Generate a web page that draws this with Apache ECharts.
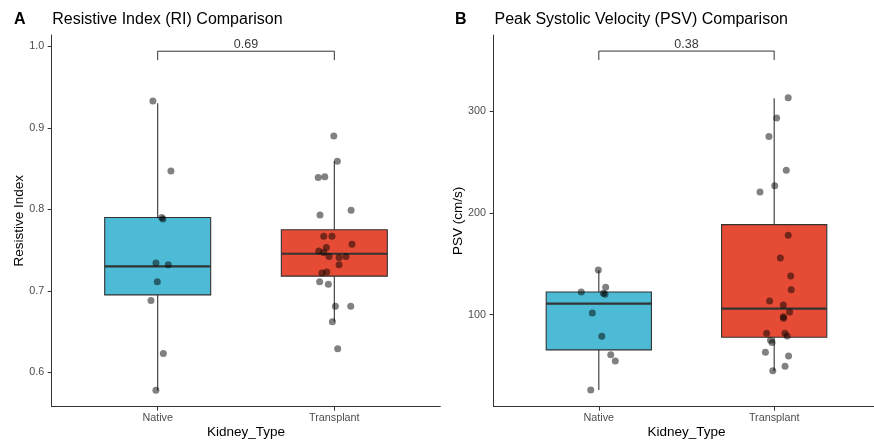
<!DOCTYPE html>
<html>
<head>
<meta charset="utf-8">
<script src="https://cdn.jsdelivr.net/npm/echarts@6/dist/echarts.min.js"></script>
<style>
html,body{margin:0;padding:0;background:#fff;overflow:hidden;}
#chart{width:874px;height:440px;}
</style>
</head>
<body>
<div id="chart"></div>
<script>
// ---------- data ----------
const categories = ['Native', 'Transplant'];

// Panel A: Resistive Index
const riNativeValues  = [0.933, 0.847, 0.790, 0.788, 0.734, 0.732, 0.711, 0.688, 0.623, 0.578];
const riNativeJitter  = [0.973, 1.075, 1.023, 1.030, 0.990, 1.060, 0.998, 0.962, 1.032, 0.990];
const riTransValues   = [0.890, 0.859, 0.839, 0.840, 0.799, 0.793, 0.767, 0.767, 0.757, 0.753, 0.749, 0.747,
                         0.742, 0.741, 0.742, 0.732, 0.723, 0.722, 0.711, 0.708, 0.681, 0.681, 0.662, 0.629];
const riTransJitter   = [1.997, 2.017, 1.909, 1.946, 2.095, 1.919, 1.940, 1.987, 2.100, 1.955, 1.912, 1.940,
                         1.970, 2.027, 2.066, 2.027, 1.957, 1.930, 1.917, 1.966, 2.006, 2.093, 1.989, 2.019];
// box stats: [min, Q1, median, Q3, max]
const riNativeBox = [0.578, 0.695, 0.730, 0.790, 0.930];
const riTransBox  = [0.662, 0.718, 0.7455, 0.775, 0.859];
const riTicks = [0.6, 0.7, 0.8, 0.9, 1.0];

// Panel B: Peak Systolic Velocity
const psvNativeValues = [143.9, 126.9, 122.3, 121.0, 120.0, 101.7, 78.8, 60.7, 54.5, 26.1];
const psvNativeJitter = [0.997, 1.039, 0.900, 1.026, 1.035, 0.963, 1.017, 1.068, 1.094, 0.954];
const psvTransValues  = [313.1, 293.1, 275.1, 241.8, 226.7, 220.5, 177.9, 155.7, 137.9, 124.5, 113.4, 109.5,
                         102.6, 98.0, 96.5, 81.7, 81.7, 79.1, 74.9, 72.6, 63.0, 59.5, 49.3, 45.0];
const psvTransJitter  = [2.080, 2.014, 1.970, 2.069, 2.003, 1.919, 2.080, 2.035, 2.094, 2.097, 1.974, 2.052,
                         2.088, 2.052, 2.054, 1.957, 2.061, 2.074, 1.979, 1.988, 1.950, 2.082, 2.062, 1.992];
const psvNativeBox = [26.1, 65.4, 110.8, 122.3, 143.6];
const psvTransBox  = [44.5, 77.8, 105.9, 188.4, 312.5];
const psvTicks = [100, 200, 300];

// p-value brackets
const pValues = ['0.69', '0.38'];
const bracketTop = [0.994, 358.9];
const bracketTip = [0.983, 350.1];

const boxColors = ['#4DBBD5', '#E64B35'];

// ---------- chart ----------
const FONT = '"Liberation Sans", Arial, sans-serif';
const chart = echarts.init(document.getElementById('chart'), null, {renderer: 'canvas'});

function zip(xs, ys) { return xs.map((x, i) => [x, ys[i]]); }

function renderBox(params, api) {
  const x = api.value(0);
  const half = 0.3;
  const lo = api.value(1), q1 = api.value(2), md = api.value(3), q3 = api.value(4), hi = api.value(5);
  const pTL = api.coord([x - half, q3]);
  const pBR = api.coord([x + half, q1]);
  const pMedL = api.coord([x - half, md]);
  const pMedR = api.coord([x + half, md]);
  const pHi = api.coord([x, hi]);
  const pLo = api.coord([x, lo]);
  const pQ3 = api.coord([x, q3]);
  const pQ1 = api.coord([x, q1]);
  const stroke = '#333333';
  return {
    type: 'group',
    children: [
      {type: 'line', shape: {x1: pHi[0], y1: pHi[1], x2: pQ3[0], y2: pQ3[1]}, style: {stroke: stroke, lineWidth: 1.1}},
      {type: 'line', shape: {x1: pQ1[0], y1: pQ1[1], x2: pLo[0], y2: pLo[1]}, style: {stroke: stroke, lineWidth: 1.1}},
      {type: 'rect', shape: {x: pTL[0], y: pTL[1], width: pBR[0] - pTL[0], height: pBR[1] - pTL[1]},
        style: {fill: boxColors[params.dataIndex], stroke: stroke, lineWidth: 1.1}},
      {type: 'line', shape: {x1: pMedL[0], y1: pMedL[1], x2: pMedR[0], y2: pMedR[1]}, style: {stroke: stroke, lineWidth: 2.2}}
    ]
  };
}

function xAxisDef(gridIndex) {
  return {
    type: 'value', gridIndex: gridIndex, min: 0.4, max: 2.6,
    name: 'Kidney_Type', nameLocation: 'middle', nameGap: 19, nameMoveOverlap: false,
    nameTextStyle: {fontFamily: FONT, fontSize: 13.5, color: '#000'},
    axisLine: {show: true, onZero: false, lineStyle: {color: '#333', width: 1}},
    axisTick: {show: true, length: 4, customValues: [1, 2], lineStyle: {color: '#333'}},
    axisLabel: {show: true, customValues: [1, 2], margin: 6, fontFamily: FONT, fontSize: 10.8, color: '#4D4D4D',
      formatter: v => categories[Math.round(v) - 1]},
    splitLine: {show: false}
  };
}

function yAxisDef(gridIndex, min, max, ticks, name, gap, fmt) {
  return {
    type: 'value', gridIndex: gridIndex, min: min, max: max,
    name: name, nameLocation: 'middle', nameGap: gap, nameRotate: 90, nameMoveOverlap: false,
    nameTextStyle: {fontFamily: FONT, fontSize: 13.5, color: '#000'},
    axisLine: {show: true, onZero: false, lineStyle: {color: '#333', width: 1}},
    axisTick: {show: true, length: 4, customValues: ticks, lineStyle: {color: '#333'}},
    axisLabel: {show: true, customValues: ticks, margin: 7.5, fontFamily: FONT, fontSize: 10.8, color: '#4D4D4D', formatter: fmt},
    splitLine: {show: false}
  };
}

function pointSeries(xIdx, data) {
  return {
    type: 'scatter', xAxisIndex: xIdx, yAxisIndex: xIdx, data: data, symbolSize: 7, z: 5,
    itemStyle: {color: 'rgba(0,0,0,0.62)'}, silent: true
  };
}

function bracketSeries(idx) {
  return [{
    type: 'line', xAxisIndex: idx, yAxisIndex: idx, symbol: 'none', z: 4, silent: true,
    data: [[1, bracketTip[idx]], [1, bracketTop[idx]], [2, bracketTop[idx]], [2, bracketTip[idx]]],
    lineStyle: {color: '#333', width: 1}
  }, {
    type: 'scatter', xAxisIndex: idx, yAxisIndex: idx, symbolSize: 0, z: 4, silent: true,
    data: [[1.5, bracketTop[idx]]],
    label: {show: true, position: 'top', distance: 0, formatter: pValues[idx], fontFamily: FONT, fontSize: 12.5, color: '#000'}
  }];
}

const option = {
  animation: false,
  backgroundColor: '#fff',
  title: [
    {text: 'A', left: 14, top: 11.5, padding: 0, textStyle: {fontFamily: FONT, fontSize: 16, fontWeight: 'bold', color: '#000'}},
    {text: 'Resistive Index (RI) Comparison', left: 52.3, top: 11.5, padding: 0, textStyle: {fontFamily: FONT, fontSize: 16, fontWeight: 'normal', color: '#000'}},
    {text: 'B', left: 455, top: 11.5, padding: 0, textStyle: {fontFamily: FONT, fontSize: 16, fontWeight: 'bold', color: '#000'}},
    {text: 'Peak Systolic Velocity (PSV) Comparison', left: 494.5, top: 11.5, padding: 0, textStyle: {fontFamily: FONT, fontSize: 16, fontWeight: 'normal', color: '#000'}}
  ],
  grid: [
    {left: 51.7, top: 35, width: 388.6, height: 371.7, containLabel: false, outerBoundsMode: 'none'},
    {left: 493.6, top: 35, width: 385.8, height: 371.7, containLabel: false, outerBoundsMode: 'none'}
  ],
  xAxis: [xAxisDef(0), xAxisDef(1)],
  yAxis: [
    yAxisDef(0, 0.5578, 1.0139, riTicks, 'Resistive Index', 25, v => v.toFixed(1)),
    yAxisDef(1, 9.6, 374.7, psvTicks, 'PSV (cm/s)', 28, v => String(Math.round(v)))
  ],
  series: [
    {type: 'custom', xAxisIndex: 0, yAxisIndex: 0, renderItem: renderBox, z: 2, silent: true,
      encode: {x: 0, y: [1, 2, 3, 4, 5]},
      data: [[1].concat(riNativeBox), [2].concat(riTransBox)]},
    {type: 'custom', xAxisIndex: 1, yAxisIndex: 1, renderItem: renderBox, z: 2, silent: true,
      encode: {x: 0, y: [1, 2, 3, 4, 5]},
      data: [[1].concat(psvNativeBox), [2].concat(psvTransBox)]},
    pointSeries(0, zip(riNativeJitter, riNativeValues)),
    pointSeries(0, zip(riTransJitter, riTransValues)),
    pointSeries(1, zip(psvNativeJitter, psvNativeValues)),
    pointSeries(1, zip(psvTransJitter, psvTransValues)),
    ...bracketSeries(0),
    ...bracketSeries(1)
  ]
};
chart.setOption(option);
</script>
</body>
</html>
